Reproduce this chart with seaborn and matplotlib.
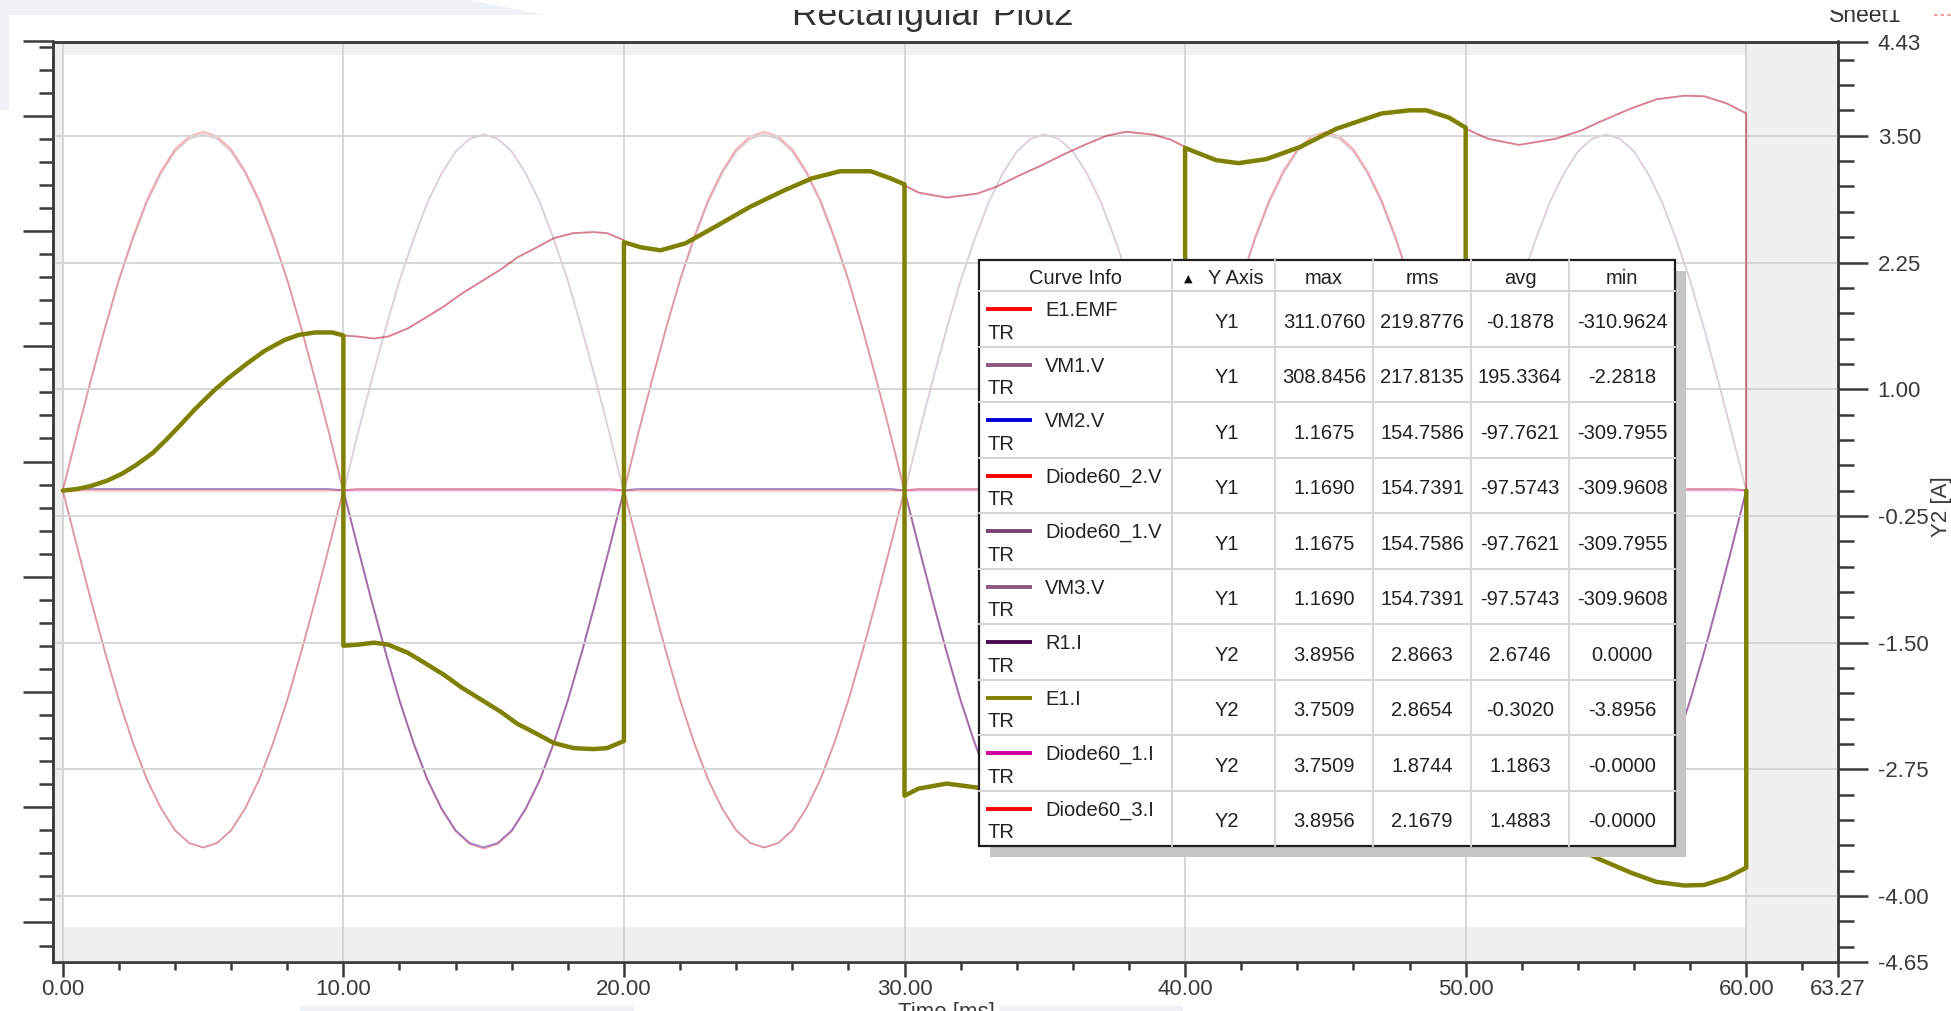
import numpy as np
import pandas as pd
import matplotlib
matplotlib.use("Agg")
import matplotlib.pyplot as plt
from matplotlib.patches import Rectangle, Polygon
from matplotlib.ticker import FixedLocator
import seaborn as sns

# ---------------------------------------------------------------- data
# Voltages (left axis, V), one sample every 0.5 ms
t_volt = [k / 2 for k in range(121)]

e1_emf = [0, 49, 96, 141, 183, 220, 252, 277, 296, 307, 311.08, 307, 296, 277, 252, 220, 183, 141, 96, 49,
          0, -49, -96, -141, -183, -220, -252, -277, -296, -307, -310.96, -307, -296, -277, -252, -220, -183, -141, -96, -49,
          0, 49, 96, 141, 183, 220, 252, 277, 296, 307, 311.08, 307, 296, 277, 252, 220, 183, 141, 96, 49,
          0, -49, -96, -141, -183, -220, -252, -277, -296, -307, -310.96, -307, -296, -277, -252, -220, -183, -141, -96, -49,
          0, 49, 96, 141, 183, 220, 252, 277, 296, 307, 311.08, 307, 296, 277, 252, 220, 183, 141, 96, 49,
          0, -49, -96, -141, -183, -220, -252, -277, -296, -307, -310.96, -307, -296, -277, -252, -220, -183, -141, -96, -49,
          0]

vm1_v = [0, 48, 95, 140, 182, 218, 250, 275, 294, 305, 308.85, 305, 294, 275, 250, 218, 182, 140, 95, 48,
         -2.28, 48, 95, 140, 182, 218, 250, 275, 294, 305, 308.85, 305, 294, 275, 250, 218, 182, 140, 95, 48,
         -2.28, 48, 95, 140, 182, 218, 250, 275, 294, 305, 308.85, 305, 294, 275, 250, 218, 182, 140, 95, 48,
         -2.28, 48, 95, 140, 182, 218, 250, 275, 294, 305, 308.85, 305, 294, 275, 250, 218, 182, 140, 95, 48,
         -2.28, 48, 95, 140, 182, 218, 250, 275, 294, 305, 308.85, 305, 294, 275, 250, 218, 182, 140, 95, 48,
         -2.28, 48, 95, 140, 182, 218, 250, 275, 294, 305, 308.85, 305, 294, 275, 250, 218, 182, 140, 95, 48,
         0]

# VM2.V and Diode60_1.V read the same trace
vm2_v = [0, 1.17, 1.17, 1.17, 1.17, 1.17, 1.17, 1.17, 1.17, 1.17, 1.17, 1.17, 1.17, 1.17, 1.17, 1.17, 1.17, 1.17, 1.17, 1.17,
         0, -48, -95, -140, -182, -219, -251, -276, -295, -306, -309.8, -306, -295, -276, -251, -219, -182, -140, -95, -48,
         0, 1.17, 1.17, 1.17, 1.17, 1.17, 1.17, 1.17, 1.17, 1.17, 1.17, 1.17, 1.17, 1.17, 1.17, 1.17, 1.17, 1.17, 1.17, 1.17,
         0, -48, -95, -140, -182, -219, -251, -276, -295, -306, -309.8, -306, -295, -276, -251, -219, -182, -140, -95, -48,
         0, 1.17, 1.17, 1.17, 1.17, 1.17, 1.17, 1.17, 1.17, 1.17, 1.17, 1.17, 1.17, 1.17, 1.17, 1.17, 1.17, 1.17, 1.17, 1.17,
         0, -48, -95, -140, -182, -219, -251, -276, -295, -306, -309.8, -306, -295, -276, -251, -219, -182, -140, -95, -48,
         0]

# VM3.V and Diode60_2.V read the same trace
vm3_v = [0, -48, -95, -140, -182, -219, -251, -276, -295, -306, -309.96, -306, -295, -276, -251, -219, -182, -140, -95, -48,
         0, 1.17, 1.17, 1.17, 1.17, 1.17, 1.17, 1.17, 1.17, 1.17, 1.17, 1.17, 1.17, 1.17, 1.17, 1.17, 1.17, 1.17, 1.17, 1.17,
         0, -48, -95, -140, -182, -219, -251, -276, -295, -306, -309.96, -306, -295, -276, -251, -219, -182, -140, -95, -48,
         0, 1.17, 1.17, 1.17, 1.17, 1.17, 1.17, 1.17, 1.17, 1.17, 1.17, 1.17, 1.17, 1.17, 1.17, 1.17, 1.17, 1.17, 1.17, 1.17,
         0, -48, -95, -140, -182, -219, -251, -276, -295, -306, -309.96, -306, -295, -276, -251, -219, -182, -140, -95, -48,
         0, 1.17, 1.17, 1.17, 1.17, 1.17, 1.17, 1.17, 1.17, 1.17, 1.17, 1.17, 1.17, 1.17, 1.17, 1.17, 1.17, 1.17, 1.17, 1.17,
         0]

# Source current E1.I (right axis, A); repeated times mark the commutation steps
t_curr = [0.0, 0.5, 1.0, 1.6, 2.1, 2.6, 3.2, 3.7, 4.2, 4.7, 5.4, 5.9, 6.6, 7.2, 7.9, 8.4, 9.0, 9.6, 10.0,
          10.0, 10.5, 11.1, 11.6, 12.3, 12.9, 13.6, 14.2, 14.9, 15.6, 16.2, 16.9, 17.5, 18.2, 18.9, 19.4, 20.0,
          20.0, 20.6, 21.3, 22.2, 23.3, 24.5, 25.7, 26.7, 27.7, 28.8, 29.5, 30.0,
          30.0, 30.5, 31.5, 32.6, 33.3, 34.1, 34.9, 35.7, 36.5, 37.2, 37.9, 38.9, 39.5, 40.0,
          40.0, 41.1, 41.9, 42.9, 44.1, 45.4, 47.0, 48.0, 48.6, 49.4, 50.0,
          50.0, 50.8, 51.9, 53.2, 54.1, 54.8, 55.9, 56.8, 57.8, 58.5, 59.3, 60.0,
          60.0]
e1_i = [0.00, 0.015, 0.045, 0.10, 0.165, 0.25, 0.37, 0.505, 0.65, 0.80, 0.99, 1.11, 1.26, 1.38, 1.485, 1.535, 1.56, 1.56, 1.53,
        -1.53, -1.52, -1.50, -1.52, -1.60, -1.70, -1.82, -1.94, -2.06, -2.18, -2.30, -2.40, -2.49, -2.54, -2.55, -2.54, -2.47,
        2.45, 2.40, 2.37, 2.44, 2.61, 2.80, 2.96, 3.08, 3.15, 3.15, 3.08, 3.02,
        -3.01, -2.94, -2.89, -2.93, -3.00, -3.11, -3.21, -3.32, -3.42, -3.50, -3.54, -3.51, -3.46, -3.39,
        3.38, 3.26, 3.23, 3.27, 3.39, 3.57, 3.72, 3.7509, 3.7509, 3.68, 3.58,
        -3.57, -3.47, -3.41, -3.47, -3.55, -3.64, -3.77, -3.86, -3.8956, -3.89, -3.82, -3.72,
        0.00]

# Curve info table
curve_names = ["E1.EMF", "VM1.V", "VM2.V", "Diode60_2.V", "Diode60_1.V",
               "VM3.V", "R1.I", "E1.I", "Diode60_1.I", "Diode60_3.I"]
curve_axis = ["Y1", "Y1", "Y1", "Y1", "Y1", "Y1", "Y2", "Y2", "Y2", "Y2"]
stat_max = ["311.0760", "308.8456", "1.1675", "1.1690", "1.1675", "1.1690",
            "3.8956", "3.7509", "3.7509", "3.8956"]
stat_rms = ["219.8776", "217.8135", "154.7586", "154.7391", "154.7586", "154.7391",
            "2.8663", "2.8654", "1.8744", "2.1679"]
stat_avg = ["-0.1878", "195.3364", "-97.7621", "-97.5743", "-97.7621", "-97.5743",
            "2.6746", "-0.3020", "1.1863", "1.4883"]
stat_min = ["-310.9624", "-2.2818", "-309.7955", "-309.9608", "-309.7955", "-309.9608",
            "0.0000", "-3.8956", "-0.0000", "-0.0000"]

curve_colors = ["#ff0000", "#8b5a80", "#0000e0", "#ff0000", "#7a4070",
                "#8b5a80", "#4a0a50", "#808000", "#d000a0", "#ff0000"]

# x axis / right axis tick values
x_major = [0, 10, 20, 30, 40, 50, 60, 63.27]
x_minor = [2, 4, 6, 8, 12, 14, 16, 18, 22, 24, 26, 28, 32, 34, 36, 38,
           42, 44, 46, 48, 52, 54, 56, 58, 62]
y2_major = [-4.65, -4.00, -2.75, -1.50, -0.25, 1.00, 2.25, 3.50, 4.43]
y1_major = [-375, -275, -175, -75, 25, 125, 225, 325, 389.5]

# ---------------------------------------------------------------- tables
volt = pd.DataFrame({"t": t_volt, "E1.EMF": e1_emf, "VM1.V": vm1_v,
                     "VM2.V": vm2_v, "Diode60_2.V": vm3_v,
                     "Diode60_1.V": vm2_v, "VM3.V": vm3_v})
curr = pd.DataFrame({"t": t_curr, "E1.I": e1_i})
curr["R1.I"] = curr["E1.I"].abs()
curr["Diode60_1.I"] = curr["E1.I"].clip(lower=0)
curr["Diode60_3.I"] = (-curr["E1.I"]).clip(lower=0)
color_of = dict(zip(curve_names, curve_colors))

# ---------------------------------------------------------------- style
sns.set_style("white")
plt.rcParams["font.family"] = ["Liberation Sans", "DejaVu Sans"]
INK = "#3a3a3a"
GRID = "#d4d4d4"
BAND = "#f0f0f0"

fig = plt.figure(figsize=(19.51, 10.11), dpi=100)
fig.patch.set_facecolor("white")

L, R, T, B = 52.7, 1838.0, 41.5, 962.0
ax1 = fig.add_axes([L / 1951, 1 - B / 1011, (R - L) / 1951, (B - T) / 1011])
ax2 = ax1.twinx()

XLIM = (-0.36, 63.27)
Y1LIM = (-409.3, 389.5)
Y2LIM = (-4.65, 4.43)
ax1.set_xlim(*XLIM)
ax1.set_ylim(*Y1LIM)
ax2.set_ylim(*Y2LIM)
ax1.set_facecolor("white")

# shaded margins outside the simulated range
ax1.axvspan(XLIM[0], 0, color=BAND, lw=0, zorder=0)
ax1.axvspan(60, XLIM[1], color=BAND, lw=0, zorder=0)
span = Y2LIM[1] - Y2LIM[0]
f_top = (4.30 - Y2LIM[0]) / span
f_bot = (-4.30 - Y2LIM[0]) / span
ax1.add_patch(Rectangle((0, f_top), 1, 1 - f_top, transform=ax1.transAxes,
                        fc=BAND, ec="none", zorder=0))
ax1.add_patch(Rectangle((0, 0), 1, f_bot, transform=ax1.transAxes,
                        fc=BAND, ec="none", zorder=0))

# voltage traces (dimmed)
for name in ["E1.EMF", "VM1.V", "VM2.V", "Diode60_2.V", "Diode60_1.V", "VM3.V"]:
    sns.lineplot(data=volt, x="t", y=name, ax=ax1, color=color_of[name],
                 alpha=0.3, lw=1.3, estimator=None, sort=False, legend=False)

# current traces: dimmed diode/resistor currents, highlighted source current
for name in ["R1.I", "Diode60_1.I", "Diode60_3.I"]:
    sns.lineplot(data=curr, x="t", y=name, ax=ax2, color=color_of[name],
                 alpha=0.3, lw=1.3, estimator=None, sort=False, legend=False)
sns.lineplot(data=curr, x="t", y="E1.I", ax=ax2, color=color_of["E1.I"],
             lw=3.2, estimator=None, sort=False, legend=False, zorder=4)

for a in (ax1, ax2):
    a.set_xlabel("")
    a.set_ylabel("")
    for sp in a.spines.values():
        sp.set_visible(True)
        sp.set_color(INK)
        sp.set_linewidth(1.8)

# ticks
ax1.xaxis.set_major_locator(FixedLocator(x_major))
ax1.xaxis.set_minor_locator(FixedLocator(x_minor))
ax1.set_xticklabels([f"{v:.2f}" for v in x_major])
ax1.yaxis.set_major_locator(FixedLocator(y1_major))
y1_minor = [v for v in range(-395, 389, 20) if v not in y1_major]
ax1.yaxis.set_minor_locator(FixedLocator(y1_minor))
ax1.set_yticklabels([""] * len(y1_major))

ax2.yaxis.set_major_locator(FixedLocator(y2_major))
y2_minor = [v / 100 for v in range(-450, 430, 25)
            if round(v / 100, 2) not in [round(m, 2) for m in y2_major]]
ax2.yaxis.set_minor_locator(FixedLocator(y2_minor))
ax2.set_yticklabels([f"{v:.2f}" for v in y2_major])

ax1.tick_params(axis="x", which="major", direction="out", length=10.8, width=1.8,
                color=INK, labelsize=16, labelcolor=INK, pad=1.5, bottom=True)
ax1.tick_params(axis="x", which="minor", direction="out", length=5.8, width=1.8,
                color=INK, bottom=True)
ax1.tick_params(axis="y", which="major", direction="out", length=21.6, width=1.8,
                color=INK, left=True, labelleft=False)
ax1.tick_params(axis="y", which="minor", direction="out", length=10.0, width=1.8,
                color=INK, left=True)
ax2.tick_params(axis="y", which="major", direction="out", length=21.6, width=1.8,
                color=INK, labelsize=16, labelcolor=INK, pad=7, right=True)
ax2.tick_params(axis="y", which="minor", direction="out", length=11.5, width=1.8,
                color=INK, right=True)

# grid
ax1.grid(axis="x", which="major", color=GRID, lw=1.3)
ax1.grid(axis="y", visible=False)
ax1.set_axisbelow(True)
ax2.grid(axis="y", which="major", color=GRID, lw=1.3)
ax2.set_axisbelow(True)

# ---------------------------------------------------------------- overlay (pixels)
ov = fig.add_axes([0, 0, 1, 1], zorder=10)
ov.set_xlim(0, 1951)
ov.set_ylim(1011, 0)
ov.axis("off")
ov.patch.set_visible(False)

ov.text(933, 25.5, "Rectangular Plot2", ha="center", va="baseline",
        fontsize=25.5, color="#333333", zorder=3)
ov.text(1865, 21.7, "Sheet1", ha="center", va="baseline", fontsize=16.5,
        color="#333333", zorder=3)
# window edge hiding the top of the header line
ov.add_patch(Rectangle((545, 0), 1951 - 545, 10, fc="white", ec="none", zorder=5))

PALE = "#eef2f7"
ov.add_patch(Polygon([(0, 0), (470, 0), (545, 15), (9, 15), (9, 110), (0, 110)],
                     closed=True, fc=PALE, ec="none", zorder=6))
ov.add_patch(Rectangle((300, 1006), 334, 5, fc=PALE, ec="none", zorder=6))
ov.add_patch(Rectangle((999, 1006), 184, 5, fc=PALE, ec="none", zorder=6))

ov.plot([1934, 1951], [15, 15], color="#f08a8a", lw=1.2, ls=(0, (2, 2)))
ov.text(946, 1018, "Time [ms]", ha="center", va="baseline", fontsize=16, color=INK)
ov.text(1941, 507, "Y2 [A]", ha="center", va="center", rotation=90,
        fontsize=16, color=INK)

# curve info table
col_x = [979, 1172, 1275, 1373, 1471, 1569, 1675]
tab_top, head_h, row_h = 260.0, 31.0, 55.5
tab_bot = tab_top + head_h + row_h * len(curve_names)
tab_w = col_x[-1] - col_x[0]
tab_h = tab_bot - tab_top
TXT = "#222222"
FS = 14.5

ov.add_patch(Rectangle((col_x[0] + 11, tab_top + 11), tab_w, tab_h,
                       fc="#c6c6c6", ec="none"))
ov.add_patch(Rectangle((col_x[0], tab_top), tab_w, tab_h, fc="white", ec="none"))
for cx in col_x[1:-1]:
    ov.plot([cx, cx], [tab_top, tab_bot], color="#d6d6d6", lw=1.5)
for k in range(len(curve_names)):
    yy = tab_top + head_h + row_h * k
    ov.plot([col_x[0], col_x[-1]], [yy, yy], color="#d6d6d6", lw=1.5)
ov.add_patch(Rectangle((col_x[0], tab_top), tab_w, tab_h, fill=False,
                       ec="#1e1e1e", lw=1.6))

head_base = tab_top + 24.5
ov.text((col_x[0] + col_x[1]) / 2, head_base, "Curve Info", ha="center",
        va="baseline", fontsize=FS, color=TXT)
ov.text(1188, head_base - 3, "\u25B2", ha="center", va="baseline", fontsize=8,
        color="#111111", family="DejaVu Sans")
ov.text(1236, head_base, "Y Axis", ha="center", va="baseline", fontsize=FS, color=TXT)
for j, lab in enumerate(["max", "rms", "avg", "min"]):
    ov.text((col_x[2 + j] + col_x[3 + j]) / 2, head_base, lab, ha="center",
            va="baseline", fontsize=FS, color=TXT)

for i, name in enumerate(curve_names):
    ry = tab_top + head_h + row_h * i
    ov.plot([986, 1032], [ry + 18.2, ry + 18.2], color=curve_colors[i], lw=2.8,
            solid_capstyle="butt")
    ov.text(1045, ry + 25.2, name, ha="left", va="baseline", fontsize=FS, color=TXT)
    ov.text(988, ry + 47.8, "TR", ha="left", va="baseline", fontsize=FS, color=TXT)
    ov.text((col_x[1] + col_x[2]) / 2 + 3, ry + 36.9, curve_axis[i], ha="center",
            va="baseline", fontsize=FS, color=TXT)
    for j, vals in enumerate([stat_max, stat_rms, stat_avg, stat_min]):
        ov.text((col_x[2 + j] + col_x[3 + j]) / 2, ry + 36.9, vals[i], ha="center",
                va="baseline", fontsize=FS, color=TXT)

fig.savefig("out.png", dpi=100, facecolor="white")
